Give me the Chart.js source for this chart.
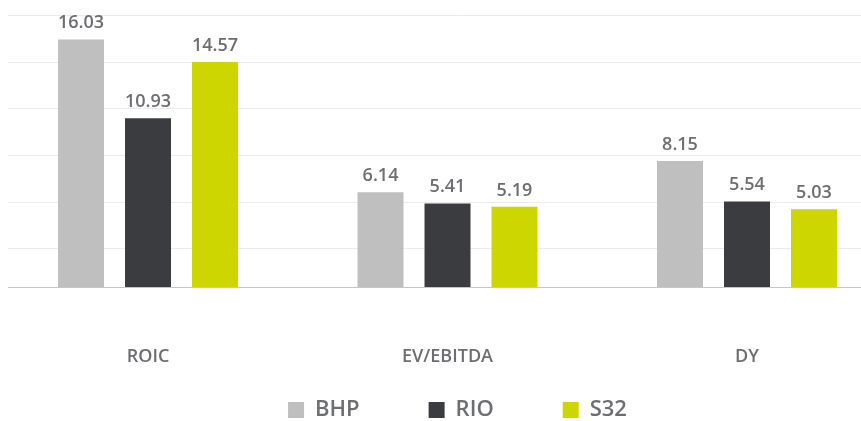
<!DOCTYPE html>
<html>
<head>
<meta charset="utf-8">
<script src="https://cdn.jsdelivr.net/npm/chart.js@4.4.1/dist/chart.umd.min.js"></script>
<style>
html,body{margin:0;padding:0;overflow:hidden;background:#ffffff}
#wrap{width:861px;height:421px;overflow:hidden;position:relative}
canvas{display:block}
</style>
</head>
<body>
<div id="wrap"><canvas id="c" width="907" height="431"></canvas></div>
<script>
// ---- data ----
const categories = ['ROIC', 'EV/EBITDA', 'DY'];
const seriesNames = ['BHP', 'RIO', 'S32'];
const bhp = [16.03, 6.14, 8.15];
const rio = [10.93, 5.41, 5.54];
const s32 = [14.57, 5.19, 5.03];
const gridValues = [2.5, 5.5, 8.5, 11.55, 14.55, 17.6];

// ---- style ----
const colors = ['#bebfbe', '#3b3c40', '#ced600'];
const textColor = '#6d6e71';
const FONT = "'Open Sans', 'Noto Sans', sans-serif";

const toPoints = arr => arr.map((v, i) => ({ x: i, y: v }));

const valueLabels = {
  id: 'valueLabels',
  afterDatasetsDraw(chart) {
    const ctx = chart.ctx;
    ctx.save();
    ctx.font = `600 18px ${FONT}`;
    ctx.fillStyle = textColor;
    ctx.textAlign = 'center';
    ctx.textBaseline = 'alphabetic';
    chart.data.datasets.forEach((ds, di) => {
      const meta = chart.getDatasetMeta(di);
      meta.data.forEach((el, i) => {
        ctx.fillText(ds.data[i].y.toFixed(2), el.x, el.y - 11);
      });
    });
    ctx.restore();
  }
};

// let the category labels of the x axis draw below its (short) layout box
const labelRoom = {
  id: 'labelRoom',
  afterLayout(chart) {
    chart.scales.x.bottom = chart.height;
  }
};

const xMin = -0.4675;
const xMax = 2.5342;

new Chart(document.getElementById('c'), {
  type: 'bar',
  data: {
    datasets: [
      { label: seriesNames[0], data: toPoints(bhp), backgroundColor: colors[0], borderWidth: 0 },
      { label: seriesNames[1], data: toPoints(rio), backgroundColor: colors[1], borderWidth: 0 },
      { label: seriesNames[2], data: toPoints(s32), backgroundColor: colors[2], borderWidth: 0 }
    ]
  },
  options: {
    responsive: false,
    animation: false,
    categoryPercentage: 0.6711,
    barPercentage: 0.6866,
    layout: { padding: { left: 8, right: 0, top: 0, bottom: 0 } },
    scales: {
      x: {
        type: 'linear',
        min: xMin,
        max: xMax,
        offset: false,
        grid: { display: false },
        border: { display: true, color: '#c6c6c6', width: 1 },
        afterBuildTicks: (scale) => { scale.ticks = categories.map((c, i) => ({ value: i })); },
        afterFit: (scale) => { scale.height = 43; },
        ticks: {
          autoSkip: false,
          maxRotation: 0,
          padding: 51,
          color: textColor,
          font: { family: FONT, size: 18, weight: '600' },
          callback: (v) => categories[v]
        }
      },
      y: {
        min: 0,
        max: 18.58,
        afterBuildTicks: (scale) => { scale.ticks = gridValues.map(v => ({ value: v })); },
        grid: { color: '#ebebeb', lineWidth: 1, drawTicks: false },
        border: { display: false },
        ticks: { display: false }
      }
    },
    plugins: {
      tooltip: { enabled: false },
      legend: {
        position: 'bottom',
        labels: {
          boxWidth: 16,
          boxHeight: 16,
          padding: 69,
          color: textColor,
          font: { family: FONT, size: 22, weight: '600' }
        }
      }
    }
  },
  plugins: [valueLabels, labelRoom]
});
</script>
</body>
</html>
